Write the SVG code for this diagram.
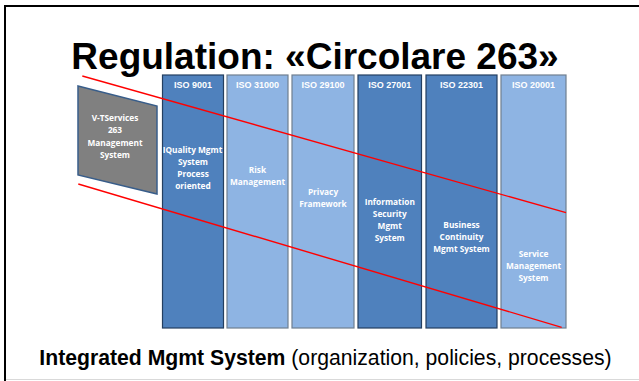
<svg xmlns="http://www.w3.org/2000/svg" width="639" height="381" viewBox="0 0 639 381">
<style>
.dark{fill:#4F81BD;stroke:#243F60;stroke-width:1.2}
.light{fill:#8EB4E3;stroke:#6F7F8F;stroke-width:1.2}
.hdr{font-family:"Liberation Sans",Arial,sans-serif;font-weight:bold;font-size:9px;fill:#FFFFFF;text-anchor:middle}
.body{font-family:"Open Sans","Noto Sans",sans-serif;font-weight:bold;font-size:8.3px;fill:#FFFFFF;text-anchor:middle}
.red{stroke:#FF0000;stroke-width:1.4;fill:none}
</style>
<rect x="0" y="0" width="639" height="381" fill="#FFFFFF"/>
<g id="frame">
<line x1="5" y1="5" x2="5" y2="381" stroke="#000" stroke-width="2"/>
<line x1="4" y1="6" x2="639" y2="6" stroke="#000" stroke-width="2"/>
<line x1="6" y1="379.5" x2="639" y2="379.5" stroke="#D9D9D9" stroke-width="1"/>
</g>
<text id="title" x="315" y="68.5" font-family="'Liberation Sans',Arial,sans-serif" font-weight="bold" font-size="37" text-anchor="middle" fill="#000">Regulation: «Circolare 263»</text>
<g id="vt">
<polygon points="78,86 157,106 157,194 78,175" fill="#808080" stroke="#385D8A" stroke-width="1.5"/>
<text class="body" x="115" y="121">V-TServices</text>
<text class="body" x="115" y="133.3">263</text>
<text class="body" x="115" y="145.5">Management</text>
<text class="body" x="115" y="157.7">System</text>
</g>
<g id="iso9001">
<rect class="dark" x="162.5" y="75" width="61" height="253"/>
<text class="hdr" x="193" y="88.3">ISO 9001</text>
<text class="body" x="192.5" y="152.5">IQuality Mgmt</text>
<text class="body" x="193" y="164.7">System</text>
<text class="body" x="193" y="176.9">Process</text>
<text class="body" x="193" y="189.1">oriented</text>
</g>
<g id="iso31000">
<rect class="light" x="227" y="75" width="61" height="253"/>
<text class="hdr" x="257.5" y="88.3">ISO 31000</text>
<text class="body" x="257.5" y="173">Risk</text>
<text class="body" x="257.5" y="185">Management</text>
</g>
<g id="iso29100">
<rect class="light" x="292" y="75" width="62" height="253"/>
<text class="hdr" x="323" y="88.3">ISO 29100</text>
<text class="body" x="323" y="195">Privacy</text>
<text class="body" x="323" y="206.8">Framework</text>
</g>
<g id="iso27001">
<rect class="dark" x="358" y="75" width="63.5" height="253"/>
<text class="hdr" x="389.75" y="88.3">ISO 27001</text>
<text class="body" x="389.75" y="205">Information</text>
<text class="body" x="389.75" y="217.1">Security</text>
<text class="body" x="389.75" y="229.3">Mgmt</text>
<text class="body" x="389.75" y="241.4">System</text>
</g>
<g id="iso22301">
<rect class="dark" x="426" y="75" width="71" height="253"/>
<text class="hdr" x="461.5" y="88.3">ISO 22301</text>
<text class="body" x="461.5" y="227.8">Business</text>
<text class="body" x="461.5" y="240">Continuity</text>
<text class="body" x="461.5" y="252.3">Mgmt System</text>
</g>
<g id="iso20001">
<rect class="light" x="501" y="75" width="65" height="253"/>
<text class="hdr" x="533.5" y="88.3">ISO 20001</text>
<text class="body" x="533.5" y="257">Service</text>
<text class="body" x="533.5" y="269.1">Management</text>
<text class="body" x="533.5" y="281.2">System</text>
</g>
<g id="connectors">
<line class="red" x1="82.3" y1="76" x2="566" y2="212.7"/>
<line class="red" x1="78.3" y1="184" x2="561.7" y2="327.3"/>
</g>
<text id="footer" x="325.5" y="365" font-family="'Liberation Sans',Arial,sans-serif" font-size="21.2" text-anchor="middle" fill="#000"><tspan font-weight="bold">Integrated Mgmt System</tspan> (organization, policies, processes)</text>
</svg>
